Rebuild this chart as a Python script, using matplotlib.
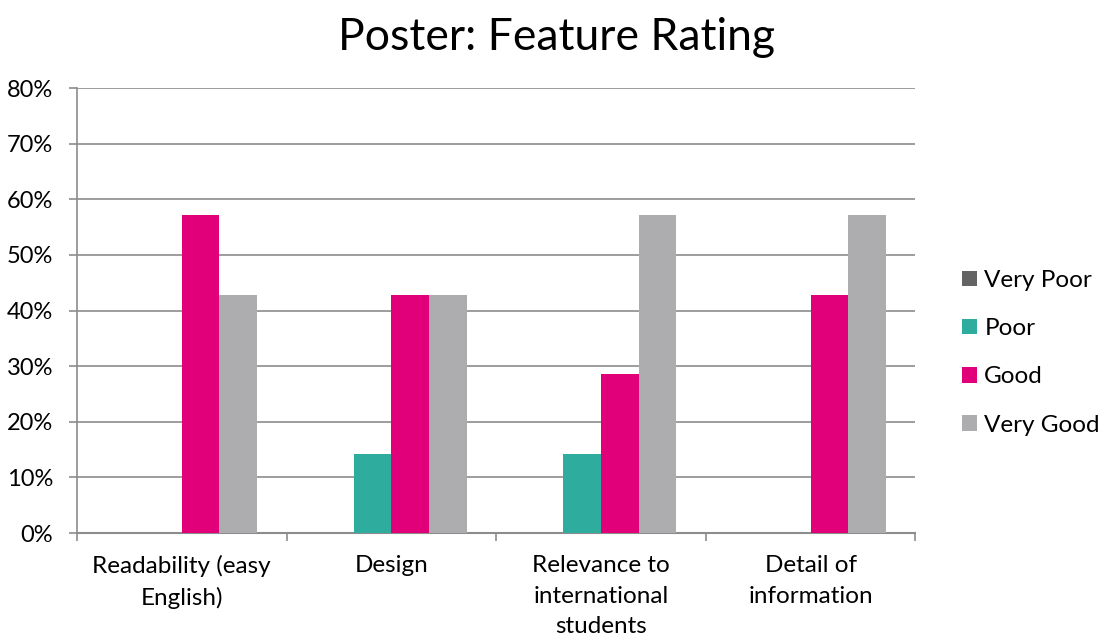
import numpy as np
import matplotlib.pyplot as plt
from matplotlib.ticker import PercentFormatter, FixedLocator

plt.rcParams['font.family'] = ['Lato', 'DejaVu Sans']

categories = ['Readability (easy\nEnglish)', 'Design',
              'Relevance to\ninternational\nstudents', 'Detail of\ninformation']
series = ['Very Poor', 'Poor', 'Good', 'Very Good']
very_poor = [0.0, 0.0, 0.0, 0.0]
poor = [0.0, 14.29, 14.29, 0.0]
good = [57.14, 42.86, 28.57, 42.86]
very_good = [42.86, 42.86, 57.14, 57.14]
colors = ['#646464', '#2EAD9E', '#E2007A', '#ADADAF']

fig = plt.figure(figsize=(11.09, 6.43), dpi=100)
ax = fig.add_axes([0.0694, 0.171, 0.756, 0.692])

x = np.arange(len(categories))
w = 0.18
for i, (name, vals) in enumerate(zip(series, [very_poor, poor, good, very_good])):
    ax.bar(x + (i - 1.5) * w, vals, w, color=colors[i], label=name, zorder=3)

ax.set_xlim(-0.5, len(categories) - 0.5)
ax.set_ylim(0, 80)
ax.set_yticks(np.arange(0, 81, 10))
ax.yaxis.set_major_formatter(PercentFormatter(decimals=0))
ax.grid(axis='y', color='#8c8c8c', linewidth=1.2, zorder=0)
ax.set_xticks(x)
ax.set_xticklabels(categories, fontsize=17.5, linespacing=1.55)
ax.xaxis.set_minor_locator(FixedLocator(np.arange(-0.5, len(categories), 1)))
ax.tick_params(axis='x', which='major', length=0, pad=16)
ax.tick_params(axis='x', which='minor', length=6, color='#8c8c8c', width=1.2)
ax.tick_params(axis='y', labelsize=17, length=6, color='#8c8c8c', width=1.2, pad=11)
for s in ['top', 'right']:
    ax.spines[s].set_visible(False)
ax.spines['left'].set_color('#8c8c8c')
ax.spines['left'].set_linewidth(1.2)
ax.spines['bottom'].set_color('#8c8c8c')
ax.spines['bottom'].set_linewidth(1.5)

fig.suptitle('Poster: Feature Rating', fontsize=32, x=0.502, y=0.973)
ax.legend(loc='center left', bbox_to_anchor=(1.03, 0.405), frameon=False,
          fontsize=17.5, handlelength=0.6, handleheight=0.6, handletextpad=0.3,
          labelspacing=1.12)

fig.savefig('out.png', dpi=100)
